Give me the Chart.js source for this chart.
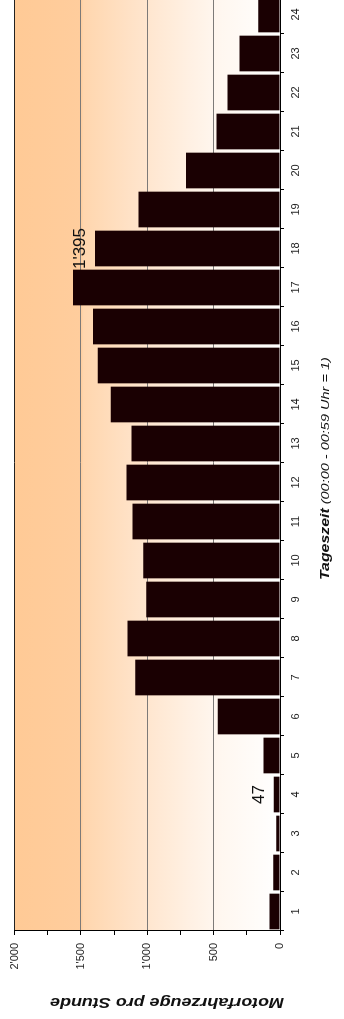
<!DOCTYPE html>
<html>
<head>
<meta charset="utf-8">
<script src="https://cdn.jsdelivr.net/npm/chart.js@4.4.1/dist/chart.umd.min.js"></script>
<style>
    html, body { margin: 0; padding: 0; background: #fff; }
    body { width: 344px; height: 1019px; overflow: hidden; position: relative; }
    /* the chart is drawn landscape, then turned a quarter counter-clockwise */
    #wrap {
        position: absolute; left: 0; top: 0;
        width: 1019px; height: 344px; overflow: hidden;
        transform-origin: 0 0;
        transform: translateY(1019px) rotate(-90deg);
    }
    canvas { display: block; }
</style>
</head>
<body>
<div id="wrap"><canvas id="trafficChart" width="1030" height="344"></canvas></div>
<script>
// ============================================
// Data
// ============================================
const hours = ['1', '2', '3', '4', '5', '6', '7', '8', '9', '10', '11', '12',
               '13', '14', '15', '16', '17', '18', '19', '20', '21', '22', '23', '24'];
const vehicles = [80, 50, 28, 47, 125, 470, 1090, 1150, 1007, 1030, 1111, 1156,
                  1119, 1276, 1373, 1410, 1560, 1395, 1067, 709, 478, 396, 306, 164];
const yTickValues = [0, 500, 1000, 1500, 2000];
const labelledHours = ['4', '18'];

const yTitle = 'Motorfahrzeuge pro Stunde';
const xTitleBold = 'Tageszeit';
const xTitleRest = ' (00:00 - 00:59 Uhr = 1)';

const FONT = "'Liberation Sans', Arial, sans-serif";

function fmt(v) {
    return String(v).replace(/\B(?=(\d{3})+(?!\d))/g, "'");
}

// draw text squeezed / stretched along its reading direction
function stretchedText(ctx, text, x, y, font, sx) {
    ctx.save();
    ctx.font = font;
    ctx.translate(x, y);
    ctx.scale(sx, 1);
    ctx.fillText(text, 0, 0);
    ctx.restore();
    ctx.font = font;
    return ctx.measureText(text).width * sx;
}

const plotBackground = {
    id: 'plotBackground',
    beforeDraw(chart) {
        const { ctx, chartArea: a } = chart;
        const g = ctx.createLinearGradient(0, a.top, 0, a.bottom);
        g.addColorStop(0, '#ffca96');
        g.addColorStop(0.25, '#ffcd9d');
        g.addColorStop(0.26, '#ffd6ae');
        g.addColorStop(0.5, '#ffe6cf');
        g.addColorStop(0.75, '#fff6ee');
        g.addColorStop(1, '#ffffff');
        ctx.save();
        ctx.fillStyle = g;
        ctx.fillRect(a.left, a.top, a.right - a.left, a.bottom - a.top);
        ctx.restore();
    }
};

const barLabels = {
    id: 'barLabels',
    afterDatasetsDraw(chart) {
        const { ctx } = chart;
        const meta = chart.getDatasetMeta(0);
        ctx.save();
        ctx.fillStyle = '#111';
        ctx.font = '17px ' + FONT;
        ctx.textAlign = 'center';
        ctx.textBaseline = 'alphabetic';
        labelledHours.forEach(h => {
            const i = hours.indexOf(h);
            const bar = meta.data[i];
            ctx.fillText(fmt(vehicles[i]), bar.x, bar.y - 10);
        });
        ctx.restore();
    }
};

const axisTitles = {
    id: 'axisTitles',
    afterDraw(chart) {
        const { ctx } = chart;
        ctx.save();
        ctx.fillStyle = '#111';
        ctx.textBaseline = 'middle';

        // value axis title, reads upward
        ctx.save();
        ctx.translate(17, 167);
        ctx.rotate(-Math.PI / 2);
        ctx.textAlign = 'center';
        stretchedText(ctx, yTitle, 0, 0, 'italic bold 14px ' + FONT, 1.28);
        ctx.restore();

        // category axis title
        ctx.textAlign = 'left';
        ctx.textBaseline = 'alphabetic';
        const w = stretchedText(ctx, xTitleBold, 439, 329, 'italic bold 13px ' + FONT, 1.22);
        stretchedText(ctx, xTitleRest, 439 + w, 329, 'italic 10px ' + FONT, 1.45);
        ctx.restore();
    }
};

const ctx = document.getElementById('trafficChart').getContext('2d');
new Chart(ctx, {
    type: 'bar',
    data: {
        labels: hours,
        datasets: [{
            data: vehicles,
            backgroundColor: '#1a0002',
            borderWidth: 0,
            barPercentage: 0.915,
            categoryPercentage: 1
        }]
    },
    options: {
        responsive: false,
        animation: false,
        devicePixelRatio: 1,
        layout: { padding: { top: 12, right: 6, bottom: 0, left: 0 } },
        plugins: {
            legend: { display: false },
            tooltip: { enabled: false }
        },
        scales: {
            x: {
                offset: true,
                grid: {
                    offset: true,
                    drawOnChartArea: false,
                    drawTicks: true,
                    tickLength: 4,
                    tickColor: '#000'
                },
                border: { color: '#000', width: 1 },
                ticks: {
                    color: '#222',
                    font: { family: FONT, size: 11 },
                    padding: 5,
                    maxRotation: 0,
                    autoSkip: false
                },
                afterFit: s => { s.height = 64; }
            },
            y: {
                min: 0,
                max: 2000,
                grid: {
                    color: c => {
                        const v = c.tick ? c.tick.value : 0;
                        if (v === 2000 || v === 0) return '#222';
                        return yTickValues.includes(v) ? '#7d7a78' : 'rgba(0,0,0,0)';
                    },
                    tickColor: '#000',
                    tickLength: 4
                },
                border: { color: '#000', width: 1 },
                ticks: {
                    stepSize: 250,
                    autoSkip: false,
                    color: '#222',
                    font: { family: FONT, size: 11 },
                    padding: 8,
                    callback: v => yTickValues.includes(v) ? fmt(v) : ''
                },
                afterFit: s => { s.width = 88; }
            }
        }
    },
    plugins: [plotBackground, barLabels, axisTitles]
});
</script>
</body>
</html>
